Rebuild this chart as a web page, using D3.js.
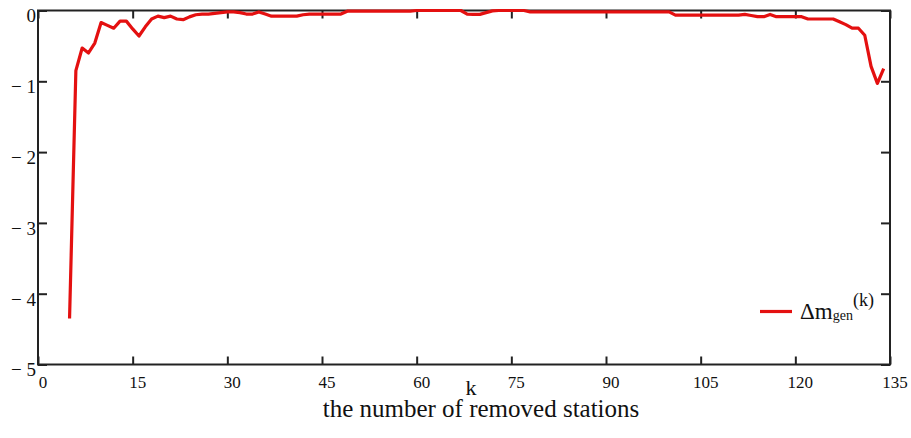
<!DOCTYPE html>
<html>
<head>
<meta charset="utf-8">
<script src="https://cdn.jsdelivr.net/npm/d3@7"></script>
<style>
  body { margin: 0; background: #fff; }
</style>
</head>
<body>
<script>
// removed stations k and the change of generation
var kValues = [5, 6, 7, 8, 9, 10, 11, 12, 13, 14, 15, 16, 17, 18, 19, 20, 21, 22, 23, 24,
  25, 26, 27, 28, 29, 30, 31, 32, 33, 34, 35, 36, 37, 38, 39, 40, 41, 42, 43, 44,
  45, 46, 47, 48, 49, 50, 51, 52, 53, 54, 55, 56, 57, 58, 59, 60, 61, 62, 63, 64,
  65, 66, 67, 68, 69, 70, 71, 72, 73, 74, 75, 76, 77, 78, 79, 80, 81, 82, 83, 84,
  85, 86, 87, 88, 89, 90, 91, 92, 93, 94, 95, 96, 97, 98, 99, 100, 101, 102, 103, 104,
  105, 106, 107, 108, 109, 110, 111, 112, 113, 114, 115, 116, 117, 118, 119, 120, 121, 122, 123, 124,
  125, 126, 127, 128, 129, 130, 131, 132, 133, 134]
var dmGen = [-4.35, -0.85, -0.53, -0.60, -0.46, -0.17, -0.21, -0.25, -0.15, -0.15, -0.26, -0.36, -0.23, -0.12, -0.08, -0.10, -0.08, -0.12, -0.13, -0.09,
  -0.06, -0.05, -0.05, -0.04, -0.03, -0.02, -0.02, -0.03, -0.05, -0.05, -0.02, -0.05, -0.08, -0.08, -0.08, -0.08, -0.08, -0.06, -0.05, -0.05,
  -0.05, -0.05, -0.05, -0.05, -0.01, -0.01, -0.01, -0.01, -0.01, -0.01, -0.01, -0.01, -0.01, -0.01, -0.01, 0, 0, 0, 0, 0,
  0, 0, 0, -0.05, -0.055, -0.055, -0.03, -0.005, 0, 0, 0, 0, 0, -0.02, -0.02, -0.02, -0.02, -0.02, -0.02, -0.02,
  -0.02, -0.02, -0.02, -0.02, -0.02, -0.02, -0.02, -0.02, -0.02, -0.02, -0.02, -0.02, -0.02, -0.02, -0.02, -0.02, -0.065, -0.065, -0.065, -0.065,
  -0.065, -0.065, -0.065, -0.065, -0.065, -0.065, -0.065, -0.055, -0.07, -0.087, -0.087, -0.055, -0.087, -0.087, -0.087, -0.087, -0.087, -0.12, -0.12, -0.12,
  -0.12, -0.12, -0.16, -0.2, -0.25, -0.25, -0.35, -0.79, -1.03, -0.82]
var xTicks = [0, 15, 30, 45, 60, 75, 90, 105, 120, 135]
var yTicks = [0, -1, -2, -3, -4, -5]

var data = kValues.map((k, i) => ({ k: k, v: dmGen[i] }))

let svg = d3.select('body')
  .append('svg')
  .attr('width', 911)
  .attr('height', 438)

let plotLeft = 38, plotRight = 890, plotTop = 10.5, plotBottom = 364.5

let x = d3.scaleLinear().domain([0, 135]).range([plotLeft, plotRight])
let y = d3.scaleLinear().domain([-5, 0]).range([plotBottom, plotTop])

let fmt = d => d === 0 ? "0" : "\u2212 " + Math.abs(d)

// bottom axis, ticks pointing inside
let xAxis = svg.append("g")
  .attr("transform", "translate(0," + plotBottom + ")")
  .call(d3.axisBottom(x).tickValues(xTicks).tickSizeInner(-8).tickSizeOuter(0).tickPadding(11.5))
xAxis.selectAll("text").attr("font-size", 17).attr("dx", 4.5)

// top mirror ticks
svg.append("g")
  .attr("transform", "translate(0," + plotTop + ")")
  .call(d3.axisTop(x).tickValues(xTicks).tickSizeInner(-8).tickSizeOuter(0).tickFormat(""))

let yAxis = svg.append("g")
  .attr("transform", "translate(" + plotLeft + ",0)")
  .call(d3.axisLeft(y).tickValues(yTicks).tickSizeInner(-9).tickSizeOuter(0).tickPadding(2).tickFormat(fmt))
yAxis.selectAll("text").attr("font-size", 19).attr("dy", "0.6em")

svg.append("g")
  .attr("transform", "translate(" + plotRight + ",0)")
  .call(d3.axisRight(y).tickValues(yTicks).tickSizeInner(-9).tickSizeOuter(0).tickFormat(""))

svg.selectAll(".domain").remove()
svg.selectAll(".tick line").attr("stroke", "#222").attr("stroke-width", 2)

svg.append("rect")
  .attr("x", plotLeft).attr("y", plotTop)
  .attr("width", plotRight - plotLeft).attr("height", plotBottom - plotTop)
  .attr("fill", "none").attr("stroke", "#222").attr("stroke-width", 2)

let line = d3.line()
  .x(d => x(d.k))
  .y(d => y(d.v))

svg.append("path")
  .datum(data)
  .attr("fill", "none")
  .attr("stroke", "#e41010")
  .attr("stroke-width", 3.2)
  .attr("stroke-linejoin", "round")
  .attr("d", line)

// legend
svg.append("line")
  .attr("x1", 760).attr("x2", 792)
  .attr("y1", 311.5).attr("y2", 311.5)
  .attr("stroke", "#e41010").attr("stroke-width", 3.2)

let leg = svg.append("text").attr("x", 800).attr("y", 319).attr("font-size", 23)
leg.append("tspan").text("\u0394m")
leg.append("tspan").attr("font-size", 14).attr("dy", 1).text("gen")
leg.append("tspan").attr("font-size", 18).attr("dy", -14).text("(k)")

// axis titles
svg.append("text")
  .attr("x", 471).attr("y", 395)
  .attr("text-anchor", "middle")
  .attr("font-size", 22)
  .text("k")

svg.append("text")
  .attr("x", 481).attr("y", 417)
  .attr("text-anchor", "middle")
  .attr("font-size", 25)
  .text("the number of removed stations")

svg.selectAll("text")
  .attr("font-family", "Liberation Serif")
  .attr("fill", "#111")
svg.selectAll("g").attr("font-family", "Liberation Serif")
</script>
</body>
</html>
